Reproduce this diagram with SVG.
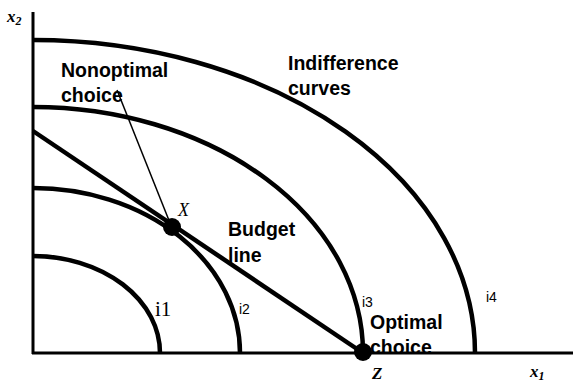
<svg xmlns="http://www.w3.org/2000/svg" width="573" height="382" viewBox="0 0 573 382">
<style>
.ic{fill:none;stroke:#000;stroke-width:4.5}
.ax{fill:none;stroke:#000;stroke-width:3}
.lb{font-family:"Liberation Sans",Arial,sans-serif;font-weight:bold;font-size:19.5px;fill:#000}
.sm{font-family:"Liberation Sans",Arial,sans-serif;font-size:14px;fill:#000}
.it{font-family:"Liberation Serif","Times New Roman",serif;font-style:italic;font-weight:bold;font-size:17px;fill:#000}
</style>
<rect width="573" height="382" fill="#fff"/>
<g id="axes">
<line class="ax" x1="33" y1="12" x2="33" y2="354"/>
<line class="ax" x1="32" y1="353" x2="573" y2="353"/>
<text class="it" x="7" y="22">x<tspan font-size="12" dy="3">2</tspan></text>
<text class="it" x="530" y="377">x<tspan font-size="12" dy="3">1</tspan></text>
</g>
<g id="i1"><path class="ic" d="M33,256 A127,97 0 0 1 160,353"/><text x="155" y="316" font-family="Liberation Serif,serif" font-size="21">i1</text></g>
<g id="i2"><path class="ic" d="M33,188 A207,165 0 0 1 240,353"/><text class="sm" x="239" y="314">i2</text></g>
<g id="i3"><path class="ic" d="M33,107 A330,246 0 0 1 363,353"/><text class="sm" x="362" y="307">i3</text></g>
<g id="i4"><path class="ic" d="M33,40 A442,313 0 0 1 475,353"/><text class="sm" x="486" y="302">i4</text></g>
<g id="connectors">
<line x1="33" y1="131" x2="363" y2="353" stroke="#000" stroke-width="4.5"/>
<line x1="117" y1="90" x2="172" y2="228" stroke="#000" stroke-width="1.5"/>
</g>
<g id="X"><circle cx="172" cy="227" r="9" fill="#000"/><text x="178" y="216" font-family="Liberation Serif,serif" font-style="italic" font-size="18">X</text></g>
<g id="Z"><circle cx="363" cy="352" r="9" fill="#000"/><text class="it" x="372" y="379" font-size="18">Z</text></g>
<g id="labels">
<text class="lb" x="288" y="70">Indifference</text>
<text class="lb" x="288" y="95">curves</text>
<text class="lb" x="61" y="77">Nonoptimal</text>
<text class="lb" x="61" y="102">choice</text>
<text class="lb" x="228" y="236">Budget</text>
<text class="lb" x="228" y="262">line</text>
<text class="lb" x="370" y="329">Optimal</text>
<text class="lb" x="370" y="354">choice</text>
</g>
</svg>
